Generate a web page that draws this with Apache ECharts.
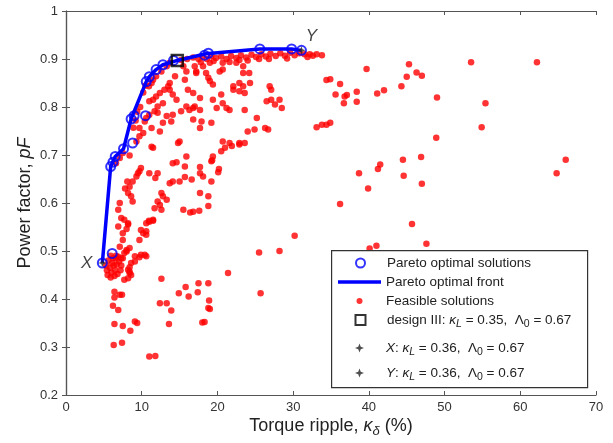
<!DOCTYPE html>
<html>
<head>
<meta charset="utf-8">
<script src="https://cdn.jsdelivr.net/npm/echarts@6/dist/echarts.min.js"></script>
<style>
  html, body { margin: 0; padding: 0; background: #fff; }
  #chart { width: 613px; height: 443px; }
</style>
</head>
<body>
<div id="chart"></div>
<script>
// axis ticks
const xTicks = [0, 10, 20, 30, 40, 50, 60, 70];
const yTicks = [0.2, 0.3, 0.4, 0.5, 0.6, 0.7, 0.8, 0.9, 1];

// pareto optimal solutions (circles)
const paretoPoints = [
  [4.8, 0.475], [6.1, 0.495], [5.9, 0.676], [6.2, 0.685], [6.5, 0.697],
  [7.6, 0.713], [8.8, 0.725], [8.6, 0.775], [9.0, 0.782], [10.5, 0.782],
  [10.6, 0.853], [11.0, 0.863], [11.9, 0.878], [12.8, 0.888], [14.2, 0.897],
  [18.3, 0.908], [18.8, 0.912], [25.6, 0.921], [29.8, 0.921], [31.1, 0.918]
];

// pareto optimal front (line)
const frontLine = [
  [4.8, 0.475], [5.9, 0.676], [6.5, 0.697], [7.6, 0.713], [8.6, 0.775],
  [10.6, 0.853], [11.0, 0.863], [11.9, 0.878], [12.8, 0.888], [14.7, 0.897],
  [18.5, 0.911], [25.6, 0.921], [29.8, 0.921], [31.1, 0.918]
];

// feasible solutions, split by region of the plot
const feasibleNearX = [
  [5.3, 0.47], [5.6, 0.48], [5.9, 0.49], [6.2, 0.485], [6.6, 0.49], [6.9, 0.488],
  [5.4, 0.46], [5.8, 0.465], [6.3, 0.47], [6.7, 0.472], [7.0, 0.478], [5.5, 0.45],
  [6.0, 0.455], [6.5, 0.46], [7.2, 0.46], [5.9, 0.445], [6.4, 0.448], [6.8, 0.452],
  [7.3, 0.47], [6.1, 0.475], [7.5, 0.485], [7.3, 0.485], [6.6, 0.485]
];
const feasibleLow = [
  [6.4, 0.415], [7.1, 0.409], [7.4, 0.409], [6.4, 0.403], [6.2, 0.386], [6.9, 0.377],
  [6.4, 0.348], [7.5, 0.344], [8.5, 0.334], [9.1, 0.353], [9.4, 0.35], [6.3, 0.304],
  [7.4, 0.309], [7.7, 0.44], [8.2, 0.443], [8.4, 0.457], [8.6, 0.45], [8.4, 0.454],
  [8.2, 0.461], [8.4, 0.466], [8.6, 0.475], [9.1, 0.478], [9.1, 0.489], [9.7, 0.487],
  [10.4, 0.492], [10.6, 0.489], [9.9, 0.492], [8.0, 0.502], [7.7, 0.496], [8.4, 0.506],
  [8.0, 0.499], [7.1, 0.509], [7.5, 0.523], [9.7, 0.523],
  [11.0, 0.28], [11.8, 0.281], [12.4, 0.391], [13.3, 0.391], [13.9, 0.376], [13.6, 0.348],
  [12.6, 0.442], [14.9, 0.412], [15.8, 0.425], [16.2, 0.405], [17.4, 0.414], [17.5, 0.433],
  [18.8, 0.433], [18.9, 0.397], [18.8, 0.381], [19.0, 0.379], [18.0, 0.351], [18.3, 0.352],
  [21.4, 0.454], [25.5, 0.497], [28.2, 0.5], [25.7, 0.412], [30.2, 0.532],
  [40.1, 0.505], [41.0, 0.511], [45.7, 0.556], [47.6, 0.515]
];
const feasibleMid = [
  [7.5, 0.537], [8.2, 0.555], [10.2, 0.537], [10.6, 0.534], [10.95, 0.563], [11.5, 0.563],
  [9.9, 0.544], [10.6, 0.541], [11.5, 0.565], [11.0, 0.561], [10.6, 0.558], [7.1, 0.6],
  [6.9, 0.586], [7.3, 0.569], [6.9, 0.551], [7.7, 0.565], [8.2, 0.558], [8.0, 0.546],
  [11.7, 0.589], [12.6, 0.586], [12.1, 0.603], [13.3, 0.607], [12.6, 0.621], [12.8, 0.614],
  [12.4, 0.596], [15.5, 0.586], [16.8, 0.582], [17.6, 0.584], [18.8, 0.594], [16.4, 0.58],
  [17.7, 0.621], [18.8, 0.614], [8.4, 0.634], [8.2, 0.621], [8.6, 0.614], [8.8, 0.603],
  [7.8, 0.63], [8.1, 0.645],
  [8.8, 0.645], [9.3, 0.655], [9.5, 0.662], [9.7, 0.666], [9.9, 0.673], [11.0, 0.662],
  [12.1, 0.662], [11.8, 0.652], [13.7, 0.641], [14.1, 0.645], [15.0, 0.645], [15.7, 0.654],
  [14.6, 0.685], [15.7, 0.676], [15.9, 0.697], [14.1, 0.683], [11.3, 0.717], [14.8, 0.725],
  [8.4, 0.699], [7.5, 0.704], [7.1, 0.694], [6.6, 0.683], [9.3, 0.728], [11.5, 0.715],
  [15.0, 0.728], [17.7, 0.675], [18.1, 0.655], [19.2, 0.645], [16.6, 0.649], [17.7, 0.662],
  [19.3, 0.689], [20.2, 0.671], [20.1, 0.664], [19.2, 0.687], [19.4, 0.697], [20.5, 0.708],
  [21.0, 0.715], [21.6, 0.725], [21.9, 0.719], [22.9, 0.725], [23.6, 0.725],
  [20.7, 0.728], [22.9, 0.722]
];
const feasibleHigh = [
  [9.7, 0.756], [10.2, 0.746], [9.7, 0.739], [11.3, 0.756], [12.4, 0.749], [12.8, 0.767],
  [13.9, 0.77], [13.3, 0.781], [14.1, 0.784], [15.2, 0.791], [16.3, 0.794], [11.0, 0.784],
  [10.6, 0.777], [10.4, 0.77], [11.7, 0.791], [12.1, 0.788], [12.1, 0.801], [12.8, 0.808],
  [17.7, 0.756], [17.9, 0.77], [15.9, 0.801], [16.8, 0.798], [17.0, 0.801], [9.2, 0.772],
  [8.9, 0.757], [10.2, 0.83], [10.5, 0.845], [9.8, 0.8], [9.4, 0.79],
  [17.7, 0.794], [16.8, 0.774], [19.2, 0.767], [19.9, 0.798], [20.7, 0.808], [21.2, 0.798],
  [21.6, 0.794], [19.4, 0.815], [23.6, 0.794], [25.2, 0.777], [24.0, 0.749], [24.9, 0.753],
  [26.3, 0.756], [26.7, 0.753], [26.5, 0.812], [27.1, 0.815], [27.6, 0.805], [28.5, 0.798],
  [28.2, 0.815], [26.9, 0.843], [27.1, 0.836], [22.1, 0.843], [22.9, 0.833], [23.6, 0.829],
  [24.3, 0.85], [23.4, 0.843], [22.9, 0.85], [22.1, 0.836], [20.5, 0.826], [16.8, 0.829],
  [17.7, 0.819], [19.4, 0.847], [19.0, 0.854], [18.8, 0.861], [18.5, 0.871], [17.2, 0.874],
  [20.3, 0.874], [20.7, 0.878], [23.4, 0.871], [24.2, 0.871],
  [13.7, 0.892], [13.3, 0.885], [12.6, 0.874], [11.9, 0.864], [11.5, 0.857], [11.3, 0.85],
  [10.95, 0.843], [15.5, 0.885], [15.9, 0.874], [17.0, 0.885], [17.2, 0.871], [14.4, 0.864],
  [13.7, 0.85], [13.5, 0.843], [13.0, 0.836], [12.4, 0.829], [11.9, 0.822], [11.5, 0.815],
  [11.0, 0.812], [13.7, 0.836], [14.1, 0.826], [14.6, 0.815], [15.7, 0.857], [16.1, 0.836],
  [18.1, 0.885], [19.0, 0.892], [20.7, 0.892], [22.5, 0.892], [23.4, 0.885]
];
const feasibleTop = [
  [15.2, 0.898], [16.0, 0.9], [16.8, 0.903], [17.5, 0.9], [18.0, 0.905], [18.6, 0.9],
  [19.2, 0.907], [19.8, 0.902], [20.5, 0.905], [21.2, 0.9], [21.8, 0.906], [22.5, 0.902],
  [23.1, 0.908], [23.8, 0.903], [24.5, 0.909], [25.1, 0.904], [25.8, 0.91], [26.4, 0.905],
  [27.0, 0.911], [27.7, 0.906], [28.3, 0.912], [28.9, 0.907], [29.6, 0.913], [30.2, 0.908],
  [30.8, 0.912], [31.5, 0.91], [32.2, 0.91], [32.6, 0.907], [33.1, 0.91], [33.8, 0.908],
  [19.5, 0.896], [21.6, 0.894], [24.0, 0.897], [26.8, 0.9], [29.2, 0.901], [31.9, 0.904],
  [17.8, 0.893], [22.9, 0.898], [25.5, 0.9]
];
const feasibleRight = [
  [39.7, 0.879], [45.3, 0.889], [53.5, 0.893], [62.2, 0.893], [45.0, 0.863], [46.3, 0.872],
  [47.0, 0.865], [34.4, 0.856], [34.9, 0.858], [36.2, 0.848], [35.6, 0.826], [36.8, 0.822],
  [37.1, 0.825], [38.4, 0.832], [38.4, 0.811], [36.7, 0.808], [41.1, 0.828], [42.0, 0.835],
  [44.3, 0.843], [49.0, 0.82], [55.4, 0.808], [54.9, 0.758], [33.1, 0.758], [33.8, 0.763],
  [34.4, 0.763], [34.9, 0.767], [48.9, 0.736], [44.5, 0.69], [46.9, 0.696], [41.5, 0.68],
  [41.2, 0.671], [38.7, 0.662], [44.6, 0.657], [47.0, 0.64], [39.9, 0.63], [36.2, 0.598],
  [64.8, 0.662], [66.0, 0.69]
];

const designIII = [[14.7, 0.897]];
const pointX = [[4.8, 0.475]];
const pointY = [[31.1, 0.918]];

const feasible = [].concat(feasibleNearX, feasibleLow, feasibleMid, feasibleHigh, feasibleTop, feasibleRight);

const chart = echarts.init(document.getElementById('chart'));

const FONT = 'Liberation Sans, Arial, sans-serif';
const squarePath = 'path://M0,0 L10,0 L10,10 L0,10 Z';
const starPath = 'path://M5,0 L6.4,3.6 L10,5 L6.4,6.4 L5,10 L3.6,6.4 L0,5 L3.6,3.6 Z';

const rich = {
  a: { fontSize: 13.5, fontFamily: FONT, color: '#222', lineHeight: 20 },
  i: { fontSize: 13.5, fontFamily: FONT, color: '#222', fontStyle: 'italic', lineHeight: 20 },
  s: { fontSize: 10.5, fontFamily: FONT, color: '#222', fontStyle: 'italic', lineHeight: 10, verticalAlign: 'bottom' },
  n: { fontSize: 10.5, fontFamily: FONT, color: '#222', lineHeight: 10, verticalAlign: 'bottom' }
};

const labels = {
  'Pareto optimal solutions': '{a|Pareto optimal solutions}',
  'Pareto optimal front': '{a|Pareto optimal front}',
  'Feasible solutions': '{a|Feasible solutions}',
  'design III': '{a|design III: }{i|κ}{s|L}{a| = 0.35,  Λ}{n|0}{a| = 0.67}',
  'X': '{i|X}{a|: }{i|κ}{s|L}{a| = 0.36,  Λ}{n|0}{a| = 0.67}',
  'Y': '{i|Y}{a|: }{i|κ}{s|L}{a| = 0.36,  Λ}{n|0}{a| = 0.67}'
};

// one legend per row so each icon can have its own size;
// the legend is placed by its content box, so shift narrow icons right
const ICON_BOX = 43;
function legendRow(name, top, iconW, iconH, icon) {
  return {
    data: [icon ? { name: name, icon: icon } : name],
    left: 338 + (ICON_BOX - iconW) / 2,
    top: top,
    padding: 0,
    itemWidth: ICON_BOX,
    itemHeight: iconH,
    selectedMode: false,
    z: 20,
    formatter: n => labels[n],
    textStyle: { rich: rich }
  };
}

const option = {
  animation: false,
  grid: { left: 66, right: 17, top: 11, bottom: 48, outerBoundsMode: 'none' },
  xAxis: [{
    type: 'value', min: 0, max: 70, interval: 10,
    name: '{t|Torque ripple, }{k|κ}{d|δ}{t| (%)}',
    nameLocation: 'middle', nameGap: 19, nameMoveOverlap: false,
    nameTextStyle: {
      rich: {
        t: { fontSize: 18, fontFamily: FONT, color: '#222' },
        k: { fontSize: 18, fontFamily: FONT, color: '#222', fontStyle: 'italic' },
        d: { fontSize: 13, fontFamily: FONT, color: '#222', fontStyle: 'italic', padding: [11, 0, 0, 0] }
      }
    },
    axisLine: { lineStyle: { color: '#555', width: 1.2 } },
    axisTick: { inside: true, length: 4, lineStyle: { color: '#555' } },
    axisLabel: { color: '#333', fontSize: 13, fontFamily: FONT, margin: 6,
      customValues: xTicks },
    splitLine: { show: false }
  }, {
    type: 'value', min: 0, max: 70, interval: 10, position: 'top',
    axisLine: { lineStyle: { color: '#555', width: 1.2 } },
    axisTick: { inside: true, length: 4, lineStyle: { color: '#555' } },
    axisLabel: { show: false },
    splitLine: { show: false }
  }],
  yAxis: [{
    type: 'value', min: 0.2, max: 1, interval: 0.1,
    name: '{t|Power factor, }{i|pF}',
    nameLocation: 'middle', nameGap: 32, nameMoveOverlap: false,
    nameTextStyle: {
      rich: {
        t: { fontSize: 18, fontFamily: FONT, color: '#222' },
        i: { fontSize: 18, fontFamily: FONT, color: '#222', fontStyle: 'italic' }
      }
    },
    axisLine: { lineStyle: { color: '#555', width: 1.2 } },
    axisTick: { inside: true, length: 4, lineStyle: { color: '#555' } },
    axisLabel: { color: '#333', fontSize: 13, fontFamily: FONT, margin: 8,
      customValues: yTicks },
    splitLine: { show: false }
  }, {
    type: 'value', min: 0.2, max: 1, interval: 0.1, position: 'right',
    axisLine: { lineStyle: { color: '#555', width: 1.2 } },
    axisTick: { inside: true, length: 4, lineStyle: { color: '#555' } },
    axisLabel: { show: false },
    splitLine: { show: false }
  }],
  legend: [
    legendRow('Pareto optimal solutions', 256, 9, 9),
    legendRow('Pareto optimal front', 275, 43, 3.5, 'rect'),
    legendRow('Feasible solutions', 294, 6, 6),
    legendRow('design III', 313, 10, 10),
    legendRow('X', 341, 9, 9),
    legendRow('Y', 366, 9, 9)
  ],
  graphic: [{
    type: 'rect', left: 331, top: 250,
    shape: { width: 256, height: 137 },
    style: { fill: '#fff', stroke: '#333', lineWidth: 1.2 },
    z: 10
  }],
  series: [{
    name: 'Feasible solutions', type: 'scatter', data: feasible,
    symbol: 'circle', symbolSize: 6.5,
    itemStyle: { color: '#ff0000' }, z: 2
  }, {
    name: 'Pareto optimal front', type: 'line', data: frontLine,
    symbol: 'none', lineStyle: { color: '#0000ff', width: 3.5 },
    itemStyle: { color: '#0000ff' }, z: 3
  }, {
    name: 'Pareto optimal solutions', type: 'scatter', data: paretoPoints,
    symbol: 'circle', symbolSize: 9,
    itemStyle: { color: 'rgba(0,0,0,0)', borderColor: '#0000ff', borderWidth: 2 }, z: 4
  }, {
    name: 'design III', type: 'scatter', data: designIII,
    symbol: squarePath, symbolKeepAspect: true, symbolSize: 11,
    itemStyle: { color: 'rgba(0,0,0,0)', borderColor: '#000', borderWidth: 2.5 }, z: 5
  }, {
    name: 'X', type: 'scatter', data: pointX,
    symbol: starPath, symbolKeepAspect: true, symbolSize: 8,
    itemStyle: { color: '#222' }, z: 6,
    label: { show: true, formatter: 'X', position: 'left', distance: 6,
      fontSize: 17, fontStyle: 'italic', fontFamily: FONT, color: '#111' }
  }, {
    name: 'Y', type: 'scatter', data: pointY,
    symbol: starPath, symbolKeepAspect: true, symbolSize: 8,
    itemStyle: { color: '#222' }, z: 6,
    label: { show: true, formatter: 'Y', position: 'top', offset: [10, 3],
      fontSize: 17, fontStyle: 'italic', fontFamily: FONT, color: '#111' }
  }]
};

chart.setOption(option);
</script>
</body>
</html>
